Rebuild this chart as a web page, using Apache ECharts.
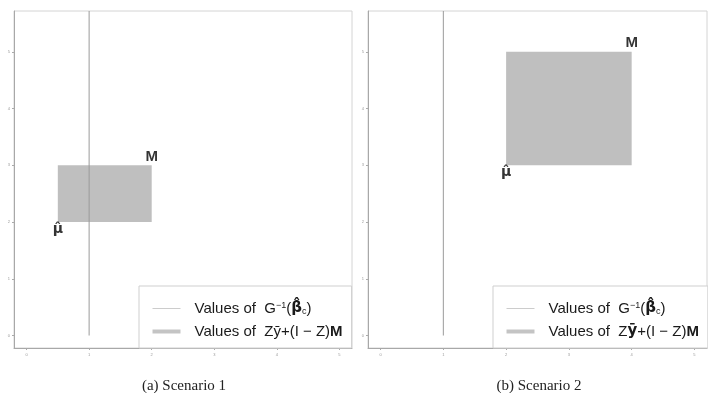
<!DOCTYPE html>
<html>
<head>
<meta charset="utf-8">
<script src="https://cdn.jsdelivr.net/npm/echarts@6/dist/echarts.min.js"></script>
<style>
  html, body { margin: 0; padding: 0; background: #fff; }
  #chart { width: 708px; height: 393px; }
</style>
</head>
<body>
<div id="chart"></div>
<script>
// tick labels (both panels)
const xTicks = [0, 1, 2, 3, 4, 5];
const yTicks = [0, 1, 2, 3, 4, 5];

// vertical line G^-1(beta_c), x = 1, from y = 0 upwards
const lineA = [[1, 0], [1, 5.72]];
const lineB = [[1, 0], [1, 5.72]];

// box from mu-hat (x0, y0) to M (x1, y1)
const boxA = [0.5, 2, 2, 3];
const boxB = [2, 3, 4, 5];

const captions = ['(a) Scenario 1', '(b) Scenario 2'];
const nameG = 'Values of G';
const nameZ = 'Values of Z';

const chart = echarts.init(document.getElementById('chart'));

function rectItem(params, api) {
  const a = api.coord([api.value(0), api.value(3)]);
  const b = api.coord([api.value(2), api.value(1)]);
  return {
    type: 'rect',
    shape: { x: a[0], y: a[1], width: b[0] - a[0], height: b[1] - a[1] },
    style: { fill: '#bfbfbf' }
  };
}

function xAxisFor(i) {
  return {
    gridIndex: i, type: 'value', min: -0.2, max: 5.2,
    axisLine: { onZero: false, lineStyle: { color: '#a8a8a8' } },
    axisTick: { customValues: xTicks, length: 2, lineStyle: { color: '#aaa' } },
    axisLabel: { customValues: xTicks, fontSize: 4, color: '#999', margin: 5 },
    splitLine: { show: false }
  };
}
function yAxisFor(i) {
  return {
    gridIndex: i, type: 'value', min: -0.22, max: 5.72,
    axisLine: { onZero: false, lineStyle: { color: '#a8a8a8' } },
    axisTick: { customValues: yTicks, length: 2, lineStyle: { color: '#aaa' } },
    axisLabel: { customValues: yTicks, fontSize: 4, color: '#999', margin: 4 },
    splitLine: { show: false }
  };
}

function legendFor(i, left, boldY) {
  return {
    left: left, top: 286, orient: 'vertical',
    borderColor: '#cfcfcf', borderWidth: 1, backgroundColor: '#fff',
    padding: [15, 9, 9, 13], itemGap: 8,
    itemWidth: 28, itemHeight: 4,
    selectedMode: false,
    data: [
      { name: nameG, itemStyle: { opacity: 0 }, lineStyle: { color: '#cccccc', width: 1 } },
      { name: nameZ, icon: 'rect', itemStyle: { color: '#c4c4c4' } }
    ],
    formatter: function (name) {
      if (name === nameG) return 'Values of  G{sup|\u22121}({b|\u03B2\u0302}{sub|c})';
      return 'Values of  Z' + (boldY ? '{by|\u0233}' : '\u0233') + '+(I \u2212 Z){bm|M}';
    },
    textStyle: {
      fontFamily: 'Liberation Sans', fontSize: 15, color: '#1a1a1a', padding: [0, 0, 0, 9],
      rich: {
        sup: { fontSize: 9, verticalAlign: 'top', fontFamily: 'Liberation Sans', color: '#1a1a1a' },
        sub: { fontSize: 9, verticalAlign: 'bottom', fontFamily: 'Liberation Sans', color: '#1a1a1a' },
        b: { fontSize: 15, fontWeight: 'bold', fontFamily: 'DejaVu Sans', color: '#1a1a1a' },
        by: { fontSize: 15, fontWeight: 'bold', fontFamily: 'DejaVu Sans', color: '#1a1a1a' },
        bm: { fontSize: 15, fontWeight: 'bold', fontFamily: 'Liberation Sans', color: '#1a1a1a' }
      }
    }
  };
}

function seriesFor(i, line, box) {
  const labelBase = { show: true, fontFamily: 'Liberation Sans', fontWeight: 'bold', fontSize: 15, color: '#000' };
  return [
    {
      name: nameZ, type: 'custom', xAxisIndex: i, yAxisIndex: i,
      renderItem: rectItem, itemStyle: { color: '#c4c4c4' },
      encode: { x: [0, 2], y: [1, 3] },
      data: [box], z: 1
    },
    {
      name: nameG, type: 'line', xAxisIndex: i, yAxisIndex: i,
      symbol: 'none', data: line, z: 3,
      lineStyle: { color: '#9a9a9a', width: 1 }
    },
    {
      type: 'scatter', xAxisIndex: i, yAxisIndex: i, symbolSize: 0, z: 4,
      data: [[box[2], box[3]]],
      label: Object.assign({}, labelBase, { position: 'top', distance: 1, formatter: 'M' })
    },
    {
      type: 'scatter', xAxisIndex: i, yAxisIndex: i, symbolSize: 0, z: 4,
      data: [[box[0], box[1]]],
      label: Object.assign({}, labelBase, {
        position: 'bottom', distance: 0, fontFamily: 'DejaVu Sans', fontSize: 14,
        formatter: '\u03BC\u0302'
      })
    }
  ];
}

chart.setOption({
  animation: false,
  title: [
    { text: captions[0], left: 179, top: 374, textAlign: 'center',
      textStyle: { fontFamily: 'Liberation Serif', fontSize: 15, fontWeight: 'normal', color: '#222' } },
    { text: captions[1], left: 534, top: 374, textAlign: 'center',
      textStyle: { fontFamily: 'Liberation Serif', fontSize: 15, fontWeight: 'normal', color: '#222' } }
  ],
  grid: [
    { left: 14, right: 356, top: 11, bottom: 45, show: true, borderColor: '#d4d4d4', borderWidth: 1 },
    { left: 368, right: 1, top: 11, bottom: 45, show: true, borderColor: '#d4d4d4', borderWidth: 1 }
  ],
  xAxis: [xAxisFor(0), xAxisFor(1)],
  yAxis: [yAxisFor(0), yAxisFor(1)],
  legend: [legendFor(0, 139, false), legendFor(1, 493, true)],
  series: seriesFor(0, lineA, boxA).concat(seriesFor(1, lineB, boxB))
});
</script>
</body>
</html>
